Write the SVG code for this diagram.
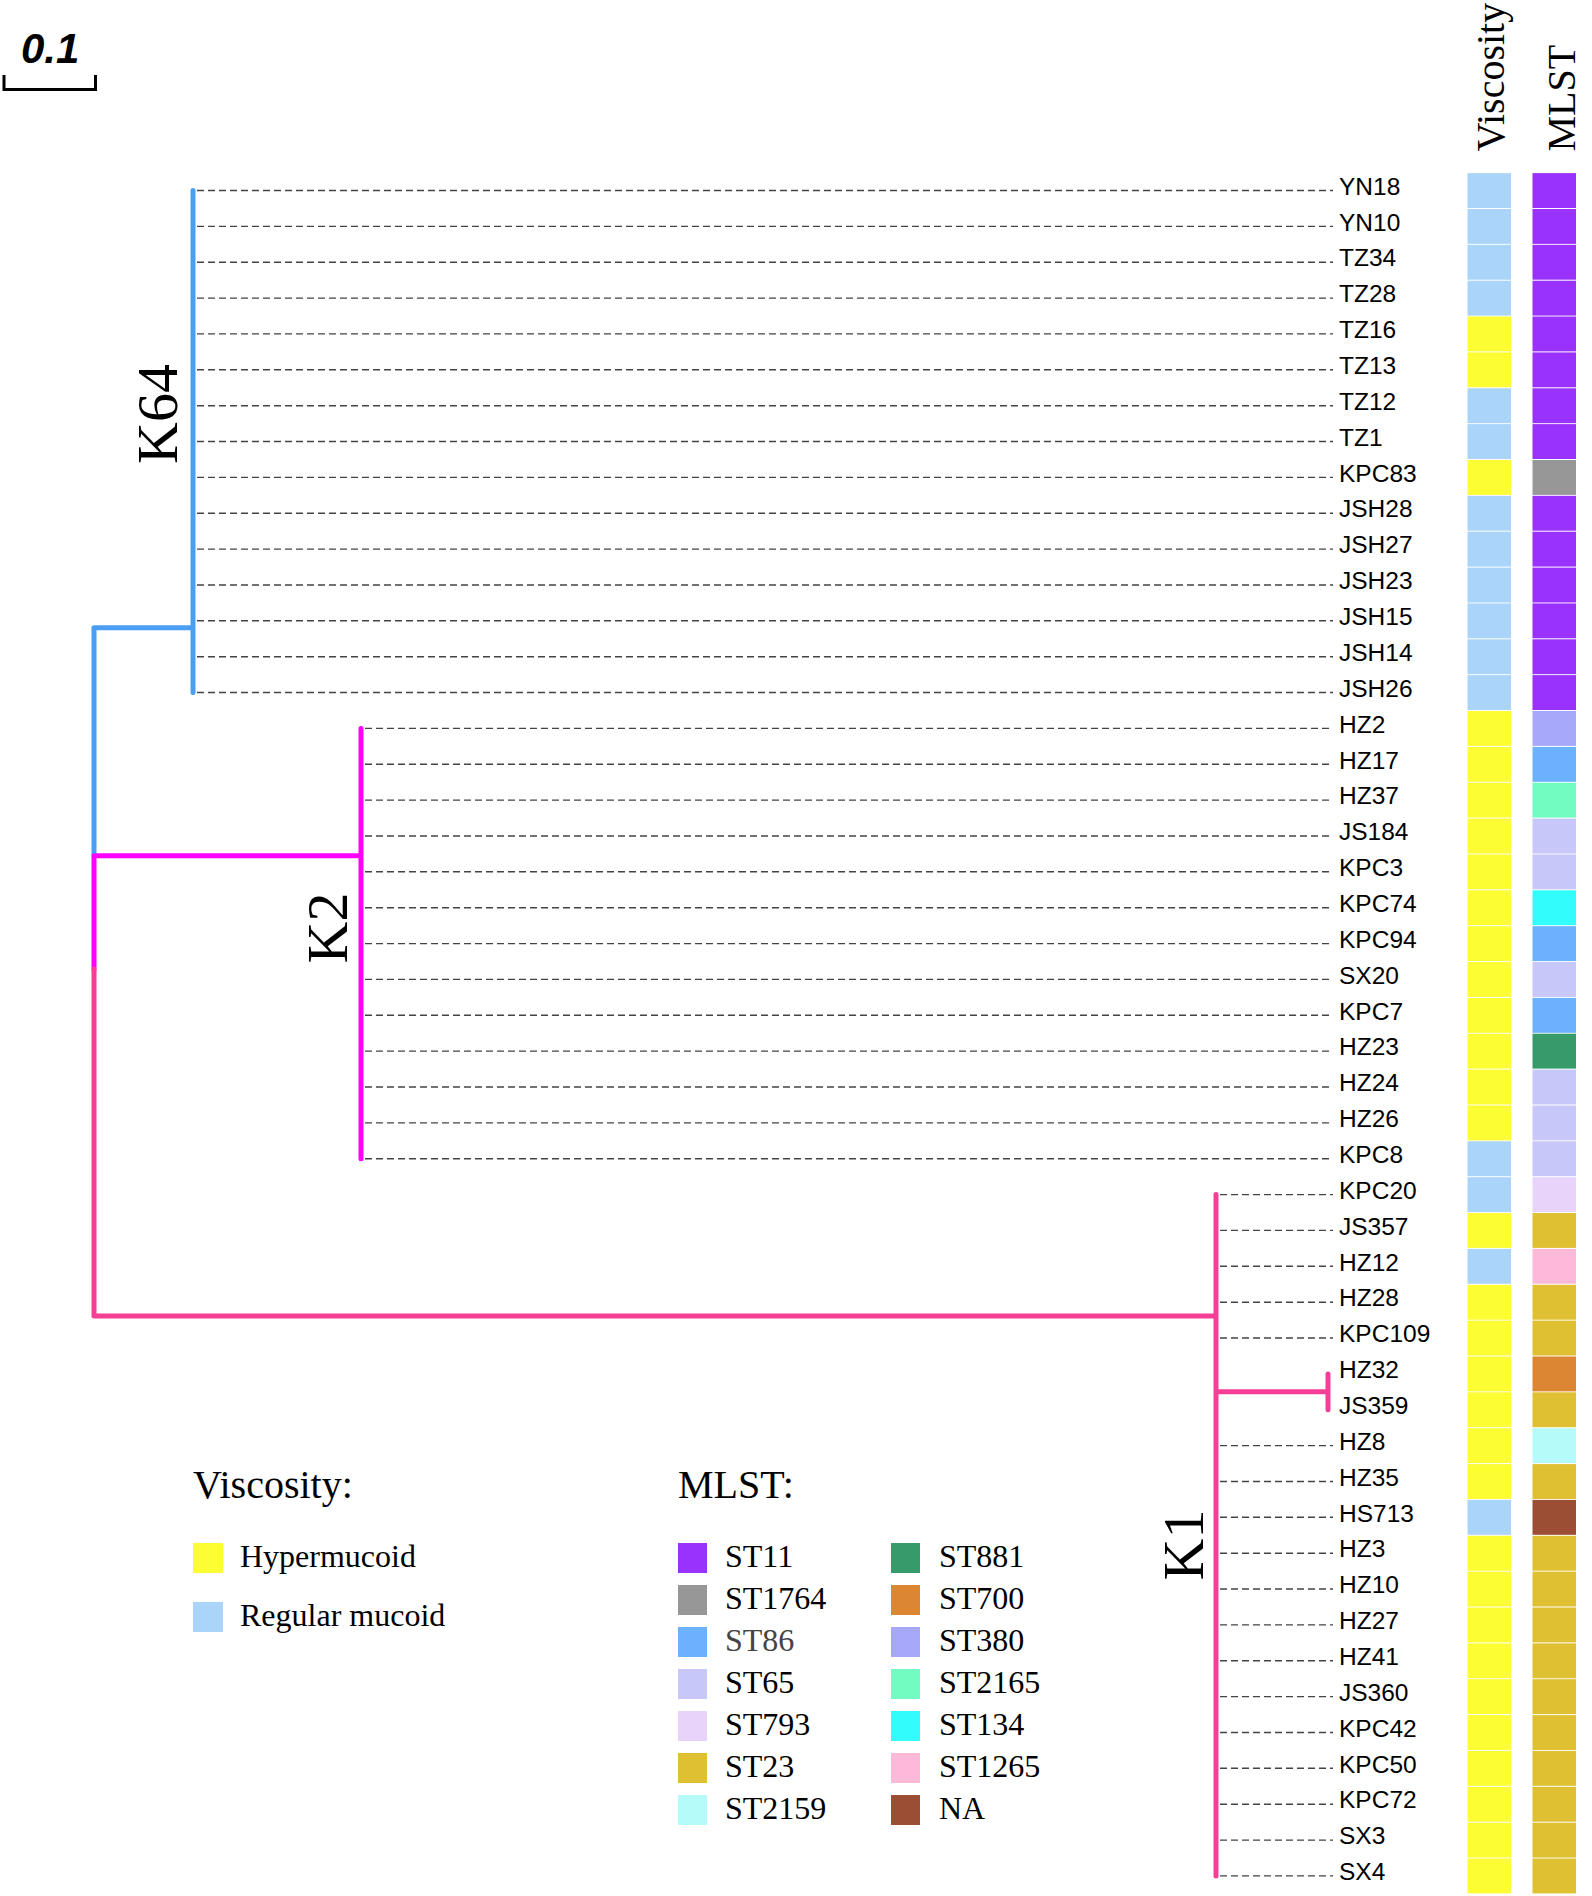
<svg xmlns="http://www.w3.org/2000/svg" width="1592" height="1896" viewBox="0 0 1592 1896">
<style>
.lbl{font-family:"Liberation Sans",Arial,sans-serif;font-size:24.5px;fill:#000}
.ser{font-family:"Liberation Serif","Times New Roman",serif;fill:#000}
.dash{stroke:#444;stroke-width:1.4;stroke-dasharray:7 4;fill:none}
.br{fill:none;stroke-width:5;stroke-linecap:round;stroke-linejoin:round}
.blue{stroke:#4a9ff5}.mag{stroke:#ff00ff}.pink{stroke:#f53e96}
.vb{fill:#abd4fa}.vy{fill:#fdfd33}
.st11{fill:#9a32fd}.st1764{fill:#979797}.st86{fill:#6cb1fb}.st65{fill:#c7c7fa}.st793{fill:#e8d4fa}
.st23{fill:#dfc032}.st2159{fill:#b5fbfa}.st881{fill:#379a6b}.st700{fill:#dc8634}.st380{fill:#a8a8fa}
.st2165{fill:#72fcc2}.st134{fill:#33fcfc}.st1265{fill:#fcb9d8}.na{fill:#9c4e34}
</style>
<rect width="1592" height="1896" fill="#fff"/>
<g id="scale-bar">
<path d="M4,75 V89.5 H95.5 V75" fill="none" stroke="#000" stroke-width="3"/>
<text x="21" y="62.5" font-family="Liberation Sans,Arial,sans-serif" font-size="42" font-weight="bold" font-style="italic">0.1</text>
</g>
<g id="headers" class="ser" font-size="40">
<text transform="translate(1503.5,151.5) rotate(-90)">Viscosity</text>
<text transform="translate(1575,151.5) rotate(-90)">MLST</text>
</g>
<g id="connectors">
<path class="br blue" d="M193,190.5 V692.5 M193,627.7 H94 V855.7"/>
<path class="br mag" d="M361,728.4 V1158.7 M94,855.7 H361 M94,855.7 V969"/>
<path class="br pink" d="M94,969 V1316 H1216 M1216,1194.6 V1875.9 M1216,1391.8 H1328 M1328,1373.9 V1409.7"/>
<g id="leaf-edges">
<path class="dash" d="M197,190.5H1333M197,226.4H1333M197,262.2H1333M197,298.1H1333M197,333.9H1333M197,369.8H1333M197,405.7H1333M197,441.5H1333M197,477.4H1333M197,513.2H1333M197,549.1H1333M197,585H1333M197,620.8H1333M197,656.7H1333M197,692.5H1333"/>
<path class="dash" d="M365,728.4H1333M365,764.3H1333M365,800.1H1333M365,836H1333M365,871.8H1333M365,907.7H1333M365,943.6H1333M365,979.4H1333M365,1015.3H1333M365,1051.1H1333M365,1087H1333M365,1122.9H1333M365,1158.7H1333"/>
<path class="dash" d="M1220,1194.6H1333M1220,1230.4H1333M1220,1266.3H1333M1220,1302.2H1333M1220,1338H1333M1220,1445.6H1333M1220,1481.5H1333M1220,1517.3H1333M1220,1553.2H1333M1220,1589H1333M1220,1624.9H1333M1220,1660.8H1333M1220,1696.6H1333M1220,1732.5H1333M1220,1768.3H1333M1220,1804.2H1333M1220,1840.1H1333M1220,1875.9H1333"/>
</g>
</g>
<g id="clade-labels" class="ser" font-size="58">
<text transform="translate(176.7,414) rotate(-90)" text-anchor="middle">K64</text>
<text transform="translate(346.7,928) rotate(-90)" text-anchor="middle">K2</text>
<text transform="translate(1203.3,1545) rotate(-90)" text-anchor="middle">K1</text>
</g>
<g id="leaves" transform="translate(0,-4.5)">
<g id="YN18"><text class="lbl" x="1339" y="199.2">YN18</text><rect class="vb" x="1467.5" y="177.6" width="43.5" height="34.9"/><rect class="st11" x="1532.5" y="177.6" width="43.5" height="34.9"/></g>
<g id="YN10"><text class="lbl" x="1339" y="235.1">YN10</text><rect class="vb" x="1467.5" y="213.5" width="43.5" height="34.9"/><rect class="st11" x="1532.5" y="213.5" width="43.5" height="34.9"/></g>
<g id="TZ34"><text class="lbl" x="1339" y="270.9">TZ34</text><rect class="vb" x="1467.5" y="249.3" width="43.5" height="34.9"/><rect class="st11" x="1532.5" y="249.3" width="43.5" height="34.9"/></g>
<g id="TZ28"><text class="lbl" x="1339" y="306.8">TZ28</text><rect class="vb" x="1467.5" y="285.2" width="43.5" height="34.9"/><rect class="st11" x="1532.5" y="285.2" width="43.5" height="34.9"/></g>
<g id="TZ16"><text class="lbl" x="1339" y="342.6">TZ16</text><rect class="vy" x="1467.5" y="321" width="43.5" height="34.9"/><rect class="st11" x="1532.5" y="321" width="43.5" height="34.9"/></g>
<g id="TZ13"><text class="lbl" x="1339" y="378.5">TZ13</text><rect class="vy" x="1467.5" y="356.9" width="43.5" height="34.9"/><rect class="st11" x="1532.5" y="356.9" width="43.5" height="34.9"/></g>
<g id="TZ12"><text class="lbl" x="1339" y="414.4">TZ12</text><rect class="vb" x="1467.5" y="392.8" width="43.5" height="34.9"/><rect class="st11" x="1532.5" y="392.8" width="43.5" height="34.9"/></g>
<g id="TZ1"><text class="lbl" x="1339" y="450.2">TZ1</text><rect class="vb" x="1467.5" y="428.6" width="43.5" height="34.9"/><rect class="st11" x="1532.5" y="428.6" width="43.5" height="34.9"/></g>
<g id="KPC83"><text class="lbl" x="1339" y="486.1">KPC83</text><rect class="vy" x="1467.5" y="464.5" width="43.5" height="34.9"/><rect class="st1764" x="1532.5" y="464.5" width="43.5" height="34.9"/></g>
<g id="JSH28"><text class="lbl" x="1339" y="521.9">JSH28</text><rect class="vb" x="1467.5" y="500.3" width="43.5" height="34.9"/><rect class="st11" x="1532.5" y="500.3" width="43.5" height="34.9"/></g>
<g id="JSH27"><text class="lbl" x="1339" y="557.8">JSH27</text><rect class="vb" x="1467.5" y="536.2" width="43.5" height="34.9"/><rect class="st11" x="1532.5" y="536.2" width="43.5" height="34.9"/></g>
<g id="JSH23"><text class="lbl" x="1339" y="593.7">JSH23</text><rect class="vb" x="1467.5" y="572.1" width="43.5" height="34.9"/><rect class="st11" x="1532.5" y="572.1" width="43.5" height="34.9"/></g>
<g id="JSH15"><text class="lbl" x="1339" y="629.5">JSH15</text><rect class="vb" x="1467.5" y="607.9" width="43.5" height="34.9"/><rect class="st11" x="1532.5" y="607.9" width="43.5" height="34.9"/></g>
<g id="JSH14"><text class="lbl" x="1339" y="665.4">JSH14</text><rect class="vb" x="1467.5" y="643.8" width="43.5" height="34.9"/><rect class="st11" x="1532.5" y="643.8" width="43.5" height="34.9"/></g>
<g id="JSH26"><text class="lbl" x="1339" y="701.2">JSH26</text><rect class="vb" x="1467.5" y="679.6" width="43.5" height="34.9"/><rect class="st11" x="1532.5" y="679.6" width="43.5" height="34.9"/></g>
<g id="HZ2"><text class="lbl" x="1339" y="737.1">HZ2</text><rect class="vy" x="1467.5" y="715.5" width="43.5" height="34.9"/><rect class="st380" x="1532.5" y="715.5" width="43.5" height="34.9"/></g>
<g id="HZ17"><text class="lbl" x="1339" y="773">HZ17</text><rect class="vy" x="1467.5" y="751.4" width="43.5" height="34.9"/><rect class="st86" x="1532.5" y="751.4" width="43.5" height="34.9"/></g>
<g id="HZ37"><text class="lbl" x="1339" y="808.8">HZ37</text><rect class="vy" x="1467.5" y="787.2" width="43.5" height="34.9"/><rect class="st2165" x="1532.5" y="787.2" width="43.5" height="34.9"/></g>
<g id="JS184"><text class="lbl" x="1339" y="844.7">JS184</text><rect class="vy" x="1467.5" y="823.1" width="43.5" height="34.9"/><rect class="st65" x="1532.5" y="823.1" width="43.5" height="34.9"/></g>
<g id="KPC3"><text class="lbl" x="1339" y="880.5">KPC3</text><rect class="vy" x="1467.5" y="858.9" width="43.5" height="34.9"/><rect class="st65" x="1532.5" y="858.9" width="43.5" height="34.9"/></g>
<g id="KPC74"><text class="lbl" x="1339" y="916.4">KPC74</text><rect class="vy" x="1467.5" y="894.8" width="43.5" height="34.9"/><rect class="st134" x="1532.5" y="894.8" width="43.5" height="34.9"/></g>
<g id="KPC94"><text class="lbl" x="1339" y="952.3">KPC94</text><rect class="vy" x="1467.5" y="930.7" width="43.5" height="34.9"/><rect class="st86" x="1532.5" y="930.7" width="43.5" height="34.9"/></g>
<g id="SX20"><text class="lbl" x="1339" y="988.1">SX20</text><rect class="vy" x="1467.5" y="966.5" width="43.5" height="34.9"/><rect class="st65" x="1532.5" y="966.5" width="43.5" height="34.9"/></g>
<g id="KPC7"><text class="lbl" x="1339" y="1024">KPC7</text><rect class="vy" x="1467.5" y="1002.4" width="43.5" height="34.9"/><rect class="st86" x="1532.5" y="1002.4" width="43.5" height="34.9"/></g>
<g id="HZ23"><text class="lbl" x="1339" y="1059.8">HZ23</text><rect class="vy" x="1467.5" y="1038.2" width="43.5" height="34.9"/><rect class="st881" x="1532.5" y="1038.2" width="43.5" height="34.9"/></g>
<g id="HZ24"><text class="lbl" x="1339" y="1095.7">HZ24</text><rect class="vy" x="1467.5" y="1074.1" width="43.5" height="34.9"/><rect class="st65" x="1532.5" y="1074.1" width="43.5" height="34.9"/></g>
<g id="HZ26"><text class="lbl" x="1339" y="1131.6">HZ26</text><rect class="vy" x="1467.5" y="1110" width="43.5" height="34.9"/><rect class="st65" x="1532.5" y="1110" width="43.5" height="34.9"/></g>
<g id="KPC8"><text class="lbl" x="1339" y="1167.4">KPC8</text><rect class="vb" x="1467.5" y="1145.8" width="43.5" height="34.9"/><rect class="st65" x="1532.5" y="1145.8" width="43.5" height="34.9"/></g>
<g id="KPC20"><text class="lbl" x="1339" y="1203.3">KPC20</text><rect class="vb" x="1467.5" y="1181.7" width="43.5" height="34.9"/><rect class="st793" x="1532.5" y="1181.7" width="43.5" height="34.9"/></g>
<g id="JS357"><text class="lbl" x="1339" y="1239.1">JS357</text><rect class="vy" x="1467.5" y="1217.5" width="43.5" height="34.9"/><rect class="st23" x="1532.5" y="1217.5" width="43.5" height="34.9"/></g>
<g id="HZ12"><text class="lbl" x="1339" y="1275">HZ12</text><rect class="vb" x="1467.5" y="1253.4" width="43.5" height="34.9"/><rect class="st1265" x="1532.5" y="1253.4" width="43.5" height="34.9"/></g>
<g id="HZ28"><text class="lbl" x="1339" y="1310.9">HZ28</text><rect class="vy" x="1467.5" y="1289.3" width="43.5" height="34.9"/><rect class="st23" x="1532.5" y="1289.3" width="43.5" height="34.9"/></g>
<g id="KPC109"><text class="lbl" x="1339" y="1346.7">KPC109</text><rect class="vy" x="1467.5" y="1325.1" width="43.5" height="34.9"/><rect class="st23" x="1532.5" y="1325.1" width="43.5" height="34.9"/></g>
<g id="HZ32"><text class="lbl" x="1339" y="1382.6">HZ32</text><rect class="vy" x="1467.5" y="1361" width="43.5" height="34.9"/><rect class="st700" x="1532.5" y="1361" width="43.5" height="34.9"/></g>
<g id="JS359"><text class="lbl" x="1339" y="1418.4">JS359</text><rect class="vy" x="1467.5" y="1396.8" width="43.5" height="34.9"/><rect class="st23" x="1532.5" y="1396.8" width="43.5" height="34.9"/></g>
<g id="HZ8"><text class="lbl" x="1339" y="1454.3">HZ8</text><rect class="vy" x="1467.5" y="1432.7" width="43.5" height="34.9"/><rect class="st2159" x="1532.5" y="1432.7" width="43.5" height="34.9"/></g>
<g id="HZ35"><text class="lbl" x="1339" y="1490.2">HZ35</text><rect class="vy" x="1467.5" y="1468.6" width="43.5" height="34.9"/><rect class="st23" x="1532.5" y="1468.6" width="43.5" height="34.9"/></g>
<g id="HS713"><text class="lbl" x="1339" y="1526">HS713</text><rect class="vb" x="1467.5" y="1504.4" width="43.5" height="34.9"/><rect class="na" x="1532.5" y="1504.4" width="43.5" height="34.9"/></g>
<g id="HZ3"><text class="lbl" x="1339" y="1561.9">HZ3</text><rect class="vy" x="1467.5" y="1540.3" width="43.5" height="34.9"/><rect class="st23" x="1532.5" y="1540.3" width="43.5" height="34.9"/></g>
<g id="HZ10"><text class="lbl" x="1339" y="1597.7">HZ10</text><rect class="vy" x="1467.5" y="1576.1" width="43.5" height="34.9"/><rect class="st23" x="1532.5" y="1576.1" width="43.5" height="34.9"/></g>
<g id="HZ27"><text class="lbl" x="1339" y="1633.6">HZ27</text><rect class="vy" x="1467.5" y="1612" width="43.5" height="34.9"/><rect class="st23" x="1532.5" y="1612" width="43.5" height="34.9"/></g>
<g id="HZ41"><text class="lbl" x="1339" y="1669.5">HZ41</text><rect class="vy" x="1467.5" y="1647.9" width="43.5" height="34.9"/><rect class="st23" x="1532.5" y="1647.9" width="43.5" height="34.9"/></g>
<g id="JS360"><text class="lbl" x="1339" y="1705.3">JS360</text><rect class="vy" x="1467.5" y="1683.7" width="43.5" height="34.9"/><rect class="st23" x="1532.5" y="1683.7" width="43.5" height="34.9"/></g>
<g id="KPC42"><text class="lbl" x="1339" y="1741.2">KPC42</text><rect class="vy" x="1467.5" y="1719.6" width="43.5" height="34.9"/><rect class="st23" x="1532.5" y="1719.6" width="43.5" height="34.9"/></g>
<g id="KPC50"><text class="lbl" x="1339" y="1777">KPC50</text><rect class="vy" x="1467.5" y="1755.4" width="43.5" height="34.9"/><rect class="st23" x="1532.5" y="1755.4" width="43.5" height="34.9"/></g>
<g id="KPC72"><text class="lbl" x="1339" y="1812.9">KPC72</text><rect class="vy" x="1467.5" y="1791.3" width="43.5" height="34.9"/><rect class="st23" x="1532.5" y="1791.3" width="43.5" height="34.9"/></g>
<g id="SX3"><text class="lbl" x="1339" y="1848.8">SX3</text><rect class="vy" x="1467.5" y="1827.2" width="43.5" height="34.9"/><rect class="st23" x="1532.5" y="1827.2" width="43.5" height="34.9"/></g>
<g id="SX4"><text class="lbl" x="1339" y="1884.6">SX4</text><rect class="vy" x="1467.5" y="1863" width="43.5" height="34.9"/><rect class="st23" x="1532.5" y="1863" width="43.5" height="34.9"/></g>
</g>
<g id="legend-viscosity" class="ser">
<text x="193" y="1498" font-size="40">Viscosity:</text>
<rect class="vy" x="193" y="1543" width="30" height="30"/>
<text x="240" y="1567" font-size="32">Hypermucoid</text>
<rect class="vb" x="193" y="1602" width="30" height="30"/>
<text x="240" y="1626" font-size="32">Regular mucoid</text>
</g>
<g id="legend-mlst" class="ser" font-size="32">
<text x="678" y="1498" font-size="40">MLST:</text>
<rect class="st11" x="678" y="1543" width="29" height="30"/><text x="725" y="1567">ST11</text>
<rect class="st1764" x="678" y="1585" width="29" height="30"/><text x="725" y="1609">ST1764</text>
<rect class="st86" x="678" y="1627" width="29" height="30"/><text x="725" y="1651" fill="#444">ST86</text>
<rect class="st65" x="678" y="1669" width="29" height="30"/><text x="725" y="1693">ST65</text>
<rect class="st793" x="678" y="1711" width="29" height="30"/><text x="725" y="1735">ST793</text>
<rect class="st23" x="678" y="1753" width="29" height="30"/><text x="725" y="1777">ST23</text>
<rect class="st2159" x="678" y="1795" width="29" height="30"/><text x="725" y="1819">ST2159</text>
<rect class="st881" x="891" y="1543" width="29" height="30"/><text x="939" y="1567">ST881</text>
<rect class="st700" x="891" y="1585" width="29" height="30"/><text x="939" y="1609">ST700</text>
<rect class="st380" x="891" y="1627" width="29" height="30"/><text x="939" y="1651">ST380</text>
<rect class="st2165" x="891" y="1669" width="29" height="30"/><text x="939" y="1693">ST2165</text>
<rect class="st134" x="891" y="1711" width="29" height="30"/><text x="939" y="1735">ST134</text>
<rect class="st1265" x="891" y="1753" width="29" height="30"/><text x="939" y="1777">ST1265</text>
<rect class="na" x="891" y="1795" width="29" height="30"/><text x="939" y="1819">NA</text>
</g>
</svg>
